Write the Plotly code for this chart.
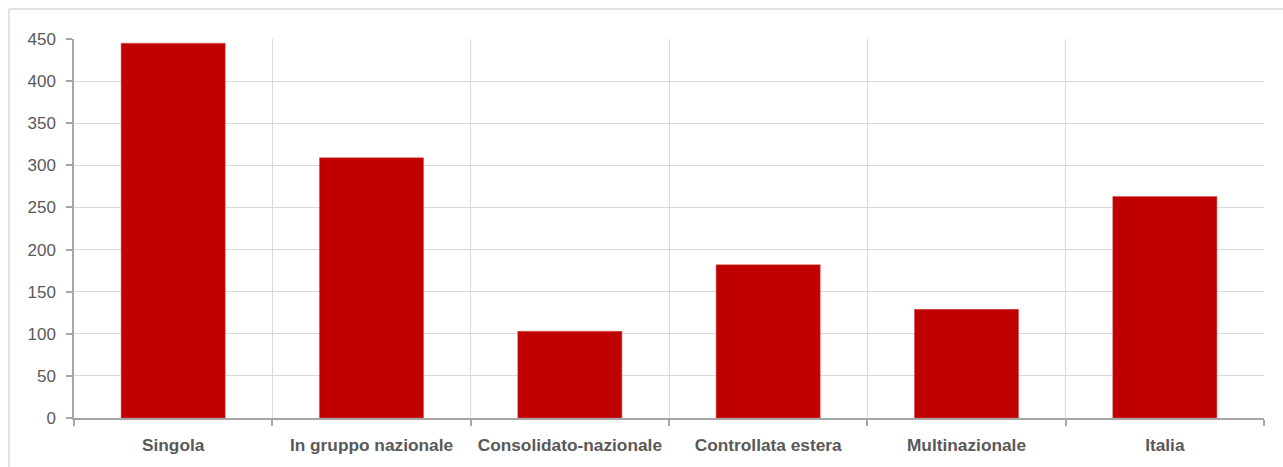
import plotly.graph_objects as go

categories = ["Singola", "In gruppo nazionale", "Consolidato-nazionale",
              "Controllata estera", "Multinazionale", "Italia"]
values = [445, 309, 103, 182, 129, 263]
y_ticks = [0, 50, 100, 150, 200, 250, 300, 350, 400, 450]

W, H = 1283, 467
ml, mr, mt, mb = 74, 19, 39, 49
pw, ph = W - ml - mr, H - mt - mb

fig = go.Figure(go.Bar(
    x=categories, y=values,
    marker=dict(color="#C00000", line=dict(color="#d9534f", width=0.5)),
))

fig.update_layout(
    width=W, height=H,
    margin=dict(l=ml, r=mr, t=mt, b=mb),
    paper_bgcolor="white", plot_bgcolor="white",
    bargap=0.475,
    showlegend=False,
    font=dict(family="Liberation Sans, Arial, sans-serif", color="#595959"),
)
fig.update_xaxes(
    type="category", range=[-0.5, 5.5],
    tickson="boundaries", showgrid=True, gridcolor="#d9d9d9", gridwidth=1,
    showline=True, linecolor="#a6a6a6", linewidth=1.5,
    ticks="outside", ticklen=6, tickcolor="#a6a6a6", tickwidth=1.5,
    tickfont=dict(size=17.3, family="Liberation Sans, Arial", color="#595959", weight="bold"),
    ticklabelstandoff=10,
)
fig.update_yaxes(
    range=[0, 450], tickvals=y_ticks,
    showgrid=True, gridcolor="#d9d9d9", gridwidth=1,
    showline=True, linecolor="#a6a6a6", linewidth=1.5,
    ticks="outside", ticklen=6, tickcolor="#a6a6a6", tickwidth=1.5,
    tickfont=dict(size=17, color="#595959"),
    ticklabelstandoff=7,
    zeroline=False,
)
# outer chart border (top and left edges visible)
x0 = (9 - ml) / pw
y1 = 1 + (mt - 9) / ph
fig.add_shape(type="line", xref="paper", yref="paper", x0=x0, x1=1.1, y0=y1, y1=y1,
              line=dict(color="#d9d9d9", width=1.5))
fig.add_shape(type="line", xref="paper", yref="paper", x0=x0, x1=x0, y0=-0.2, y1=y1,
              line=dict(color="#d9d9d9", width=1.5))

fig.write_html("out.html")
